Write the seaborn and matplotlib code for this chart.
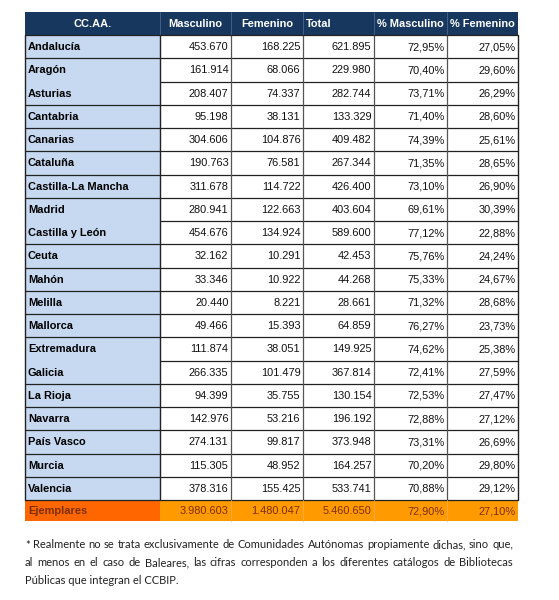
import matplotlib
matplotlib.use("Agg")
import matplotlib.pyplot as plt
from matplotlib.patches import Rectangle
import seaborn as sns

# ---------------- data ----------------
headers = ["CC.AA.", "Masculino", "Femenino", "Total", "% Masculino", "% Femenino"]
regions = ["Andalucía", "Aragón", "Asturias", "Cantabria", "Canarias", "Cataluña",
           "Castilla-La Mancha", "Madrid", "Castilla y León", "Ceuta", "Mahón", "Melilla",
           "Mallorca", "Extremadura", "Galicia", "La Rioja", "Navarra", "País Vasco",
           "Murcia", "Valencia"]
masculino = [453670, 161914, 208407, 95198, 304606, 190763, 311678, 280941, 454676, 32162,
             33346, 20440, 49466, 111874, 266335, 94399, 142976, 274131, 115305, 378316]
femenino = [168225, 68066, 74337, 38131, 104876, 76581, 114722, 122663, 134924, 10291,
            10922, 8221, 15393, 38051, 101479, 35755, 53216, 99817, 48952, 155425]
total = [621895, 229980, 282744, 133329, 409482, 267344, 426400, 403604, 589600, 42453,
         44268, 28661, 64859, 149925, 367814, 130154, 196192, 373948, 164257, 533741]
pct_masc = [72.95, 70.40, 73.71, 71.40, 74.39, 71.35, 73.10, 69.61, 77.12, 75.76,
            75.33, 71.32, 76.27, 74.62, 72.41, 72.53, 72.88, 73.31, 70.20, 70.88]
pct_fem = [27.05, 29.60, 26.29, 28.60, 25.61, 28.65, 26.90, 30.39, 22.88, 24.24,
           24.67, 28.68, 23.73, 25.38, 27.59, 27.47, 27.12, 26.69, 29.80, 29.12]
total_label = "Ejemplares"
total_row = [3980603, 1480047, 5460650, 72.90, 27.10]
footnote = ["* Realmente no se trata exclusivamente de Comunidades Autónomas propiamente dichas, sino que,",
            "al menos en el caso de Baleares,  las cifras corresponden a los diferentes catálogos de Bibliotecas",
            "Públicas que integran el CCBIP."]


def fmt_int(v):
    return f"{v:,}".replace(",", ".")


def fmt_pct(v):
    return f"{v:.2f}%".replace(".", ",")


# ---------------- style ----------------
sns.set_theme(style="white")
plt.rcParams["font.family"] = ["Liberation Sans", "DejaVu Sans"]

NAVY = "#17375E"
LIGHTBLUE = "#C6D9F1"
DARKORANGE = "#FF6600"
ORANGE = "#FF9A00"
BROWN = "#7A2E05"
LINE = "#222222"

fig = plt.figure(figsize=(5.59, 6.0), dpi=100)
ax = fig.add_axes([0, 0, 1, 1])
ax.set_xlim(0, 559)
ax.set_ylim(600, 0)
ax.axis("off")

col_edges = [25, 160, 231, 303, 374, 447, 518]
head_top, head_bot = 12, 35
body_bot = 500
n = len(regions)
rh = (body_bot - head_bot) / n
tot_top, tot_bot = body_bot, 521
FS = 7.95

# header
ax.add_patch(Rectangle((col_edges[0], head_top), col_edges[-1] - col_edges[0],
                       head_bot - head_top, facecolor=NAVY, edgecolor="none"))
for j, h in enumerate(headers):
    x0, x1 = col_edges[j], col_edges[j + 1]
    if h == "Total":
        ax.text(x0 + 3, (head_top + head_bot) / 2 + 0.5, h, ha="left", va="center",
                color="white", fontsize=FS, fontweight="bold")
    else:
        ax.text((x0 + x1) / 2, (head_top + head_bot) / 2 + 0.5, h, ha="center", va="center",
                color="white", fontsize=FS, fontweight="bold")
    if j > 0:
        ax.plot([x0, x0], [head_top, head_bot], color="#4A6690", lw=0.6)

# body
ax.add_patch(Rectangle((col_edges[0], head_bot), col_edges[1] - col_edges[0],
                       body_bot - head_bot, facecolor=LIGHTBLUE, edgecolor="none"))
ax.add_patch(Rectangle((col_edges[1], head_bot), col_edges[-1] - col_edges[1],
                       body_bot - head_bot, facecolor="white", edgecolor="none"))

no_line_first = {2, 8, 14}
for i in range(n):
    y0 = head_bot + i * rh
    yc = y0 + rh / 2 + 0.5
    ax.text(col_edges[0] + 3, yc, regions[i], ha="left", va="center",
            fontsize=FS, fontweight="bold", color="black")
    vals = [fmt_int(masculino[i]), fmt_int(femenino[i]), fmt_int(total[i]),
            fmt_pct(pct_masc[i]), fmt_pct(pct_fem[i])]
    for j, v in enumerate(vals):
        ax.text(col_edges[j + 2] - 2.5, yc, v, ha="right", va="center",
                fontsize=FS, color="#111111")
    if i > 0:
        xs = col_edges[1] if i in no_line_first else col_edges[0]
        ax.plot([xs, col_edges[-1]], [y0, y0], color=LINE, lw=0.9)

for j, x in enumerate(col_edges):
    lw = 1.0 if j in (0, 1, len(col_edges) - 1) else 0.9
    col = LINE if j in (0, 1, len(col_edges) - 1) else "#555555"
    ax.plot([x, x], [head_bot, body_bot], color=col, lw=lw)
ax.plot([col_edges[0], col_edges[-1]], [head_bot, head_bot], color=LINE, lw=0.9)

# totals row
ax.add_patch(Rectangle((col_edges[0], tot_top), col_edges[1] - col_edges[0],
                       tot_bot - tot_top, facecolor=DARKORANGE, edgecolor="none"))
ax.add_patch(Rectangle((col_edges[1], tot_top), col_edges[-1] - col_edges[1],
                       tot_bot - tot_top, facecolor=ORANGE, edgecolor="none"))
ax.plot([col_edges[0], col_edges[-1]], [tot_top, tot_top], color=LINE, lw=0.9)
for x in col_edges[2:-1]:
    ax.plot([x, x], [tot_top, tot_bot], color="#F5B04A", lw=0.6)
yc = (tot_top + tot_bot) / 2 + 0.5
ax.text(col_edges[0] + 3, yc, total_label, ha="left", va="center",
        fontsize=FS, fontweight="bold", color=BROWN)
tvals = [fmt_int(total_row[0]), fmt_int(total_row[1]), fmt_int(total_row[2]),
         fmt_pct(total_row[3]), fmt_pct(total_row[4])]
for j, v in enumerate(tvals):
    ax.text(col_edges[j + 2] - 2.5, yc, v, ha="right", va="center",
            fontsize=FS, color=BROWN)

# footnote, justified lines
fig.canvas.draw()
renderer = fig.canvas.get_renderer()
foot_x0, foot_x1 = 25, 513
foot_y = [545, 563, 581]
ffs = 8.0
fam = ["Lato", "DejaVu Sans"]
for k, line in enumerate(footnote):
    if k < len(footnote) - 1:
        words = line.split()
        texts = [ax.text(0, foot_y[k], w, fontsize=ffs, family=fam, ha="left",
                         va="center", color="#222222") for w in words]
        widths = []
        for t in texts:
            bb = t.get_window_extent(renderer=renderer)
            widths.append(bb.width)
        gap = (foot_x1 - foot_x0 - sum(widths)) / (len(words) - 1)
        x = foot_x0
        for t, w in zip(texts, widths):
            t.set_x(x)
            x += w + gap
    else:
        ax.text(foot_x0, foot_y[k], line, fontsize=ffs, family=fam, ha="left",
                va="center", color="#222222")

fig.savefig("out.png", dpi=100)
